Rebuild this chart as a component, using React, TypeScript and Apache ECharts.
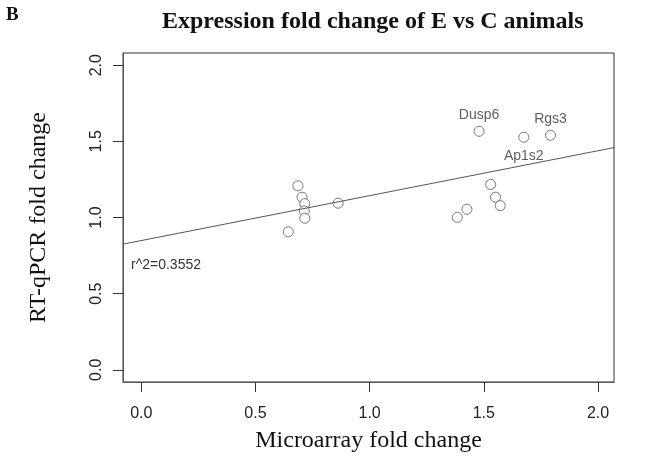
import React, { useEffect, useRef } from "react";
import * as echarts from "echarts";

// Microarray fold change (x) and RT-qPCR fold change (y)
const microarray = [0.686, 0.704, 0.716, 0.714, 0.716, 0.644, 0.862, 1.479, 1.675, 1.792, 1.53, 1.551, 1.572, 1.426, 1.384];
const rtqpcr = [1.208, 1.133, 1.091, 1.043, 0.995, 0.906, 1.094, 1.566, 1.527, 1.54, 1.217, 1.133, 1.078, 1.054, 1.001];
const geneLabels = ["", "", "", "", "", "", "", "Dusp6", "Ap1s2", "Rgs3", "", "", "", "", ""];
const labelSide = ["", "", "", "", "", "", "", "top", "bottom", "top", "", "", "", "", ""];

// regression line end points
const fitX = [-0.08, 2.07];
const fitY = [0.825, 1.459];
const rSquaredText = "r^2=0.3552";

const xTicks = [0, 0.5, 1, 1.5, 2];
const yTicks = [0, 0.5, 1, 1.5, 2];
const xRange = [-0.08, 2.07];
const yRange = [-0.08, 2.08];

const titleText = "Expression fold change of E vs C animals";
const panelLetter = "B";
const xName = "Microarray fold change";
const yName = "RT-qPCR fold change";

const SANS = "Liberation Sans";
const SERIF = "Liberation Serif";

export default function App() {
  const ref = useRef<HTMLDivElement>(null);
  useEffect(() => {
    if (!ref.current) return;
    const chart = echarts.init(ref.current, undefined, { renderer: "svg" });
    const points = microarray.map((x, i) => ({
      value: [x, rtqpcr[i]],
      label: geneLabels[i]
        ? {
            show: true,
            formatter: geneLabels[i],
            position: labelSide[i] as any,
            distance: 5,
            fontSize: 14,
            fontFamily: SANS,
            color: "#333",
          }
        : { show: false },
    }));
    chart.setOption({
      animation: false,
      title: [
        {
          text: titleText,
          left: 162,
          top: 8,
          padding: 0,
          textStyle: { fontFamily: SERIF, fontSize: 24, fontWeight: "bold", color: "#111" },
        },
        {
          text: panelLetter,
          left: 6,
          top: 4,
          padding: 0,
          textStyle: { fontFamily: SERIF, fontSize: 19, fontWeight: "bold", color: "#111" },
        },
        {
          text: rSquaredText,
          left: 131,
          top: 257,
          padding: 0,
          textStyle: { fontFamily: SANS, fontSize: 14, fontWeight: "normal", color: "#333" },
        },
      ],
      grid: { left: 123, right: 31, top: 53, bottom: 83, show: true, borderColor: "#333" },
      xAxis: {
        type: "value",
        min: xRange[0],
        max: xRange[1],
        name: xName,
        nameLocation: "middle",
        nameGap: 45,
        nameTextStyle: { fontFamily: SERIF, fontSize: 24, color: "#111" },
        splitLine: { show: false },
        axisLine: { show: true, onZero: false },
        axisTick: { show: true, length: 10, customValues: xTicks, lineStyle: { color: "#333", width: 1 } },
        axisLabel: {
          customValues: xTicks,
          formatter: (v: number) => v.toFixed(1),
          fontSize: 16,
          fontFamily: SANS,
          color: "#222",
          margin: 22,
        },
      },
      yAxis: {
        type: "value",
        min: yRange[0],
        max: yRange[1],
        name: yName,
        nameLocation: "middle",
        nameGap: 74,
        nameRotate: 90,
        nameTextStyle: { fontFamily: SERIF, fontSize: 24, color: "#111" },
        splitLine: { show: false },
        axisLine: { show: true, onZero: false },
        axisTick: { show: true, length: 10, customValues: yTicks, lineStyle: { color: "#333", width: 1 } },
        axisLabel: {
          customValues: yTicks,
          formatter: (v: number) => v.toFixed(1),
          rotate: 90,
          fontSize: 16,
          fontFamily: SANS,
          color: "#222",
          margin: 20,
        },
      },
      series: [
        {
          type: "scatter",
          data: points,
          symbol: "circle",
          symbolSize: 10,
          itemStyle: { color: "#fff", borderColor: "#555", borderWidth: 1 },
          markLine: {
            silent: true,
            symbol: ["none", "none"],
            label: { show: false },
            lineStyle: { color: "#555", width: 1, type: "solid" },
            data: [[{ coord: [fitX[0], fitY[0]] }, { coord: [fitX[1], fitY[1]] }]],
          },
        },
      ],
    });
    return () => chart.dispose();
  }, []);
  return <div ref={ref} style={{ position: "fixed", left: 0, top: 0, width: 645, height: 465 }} />;
}
